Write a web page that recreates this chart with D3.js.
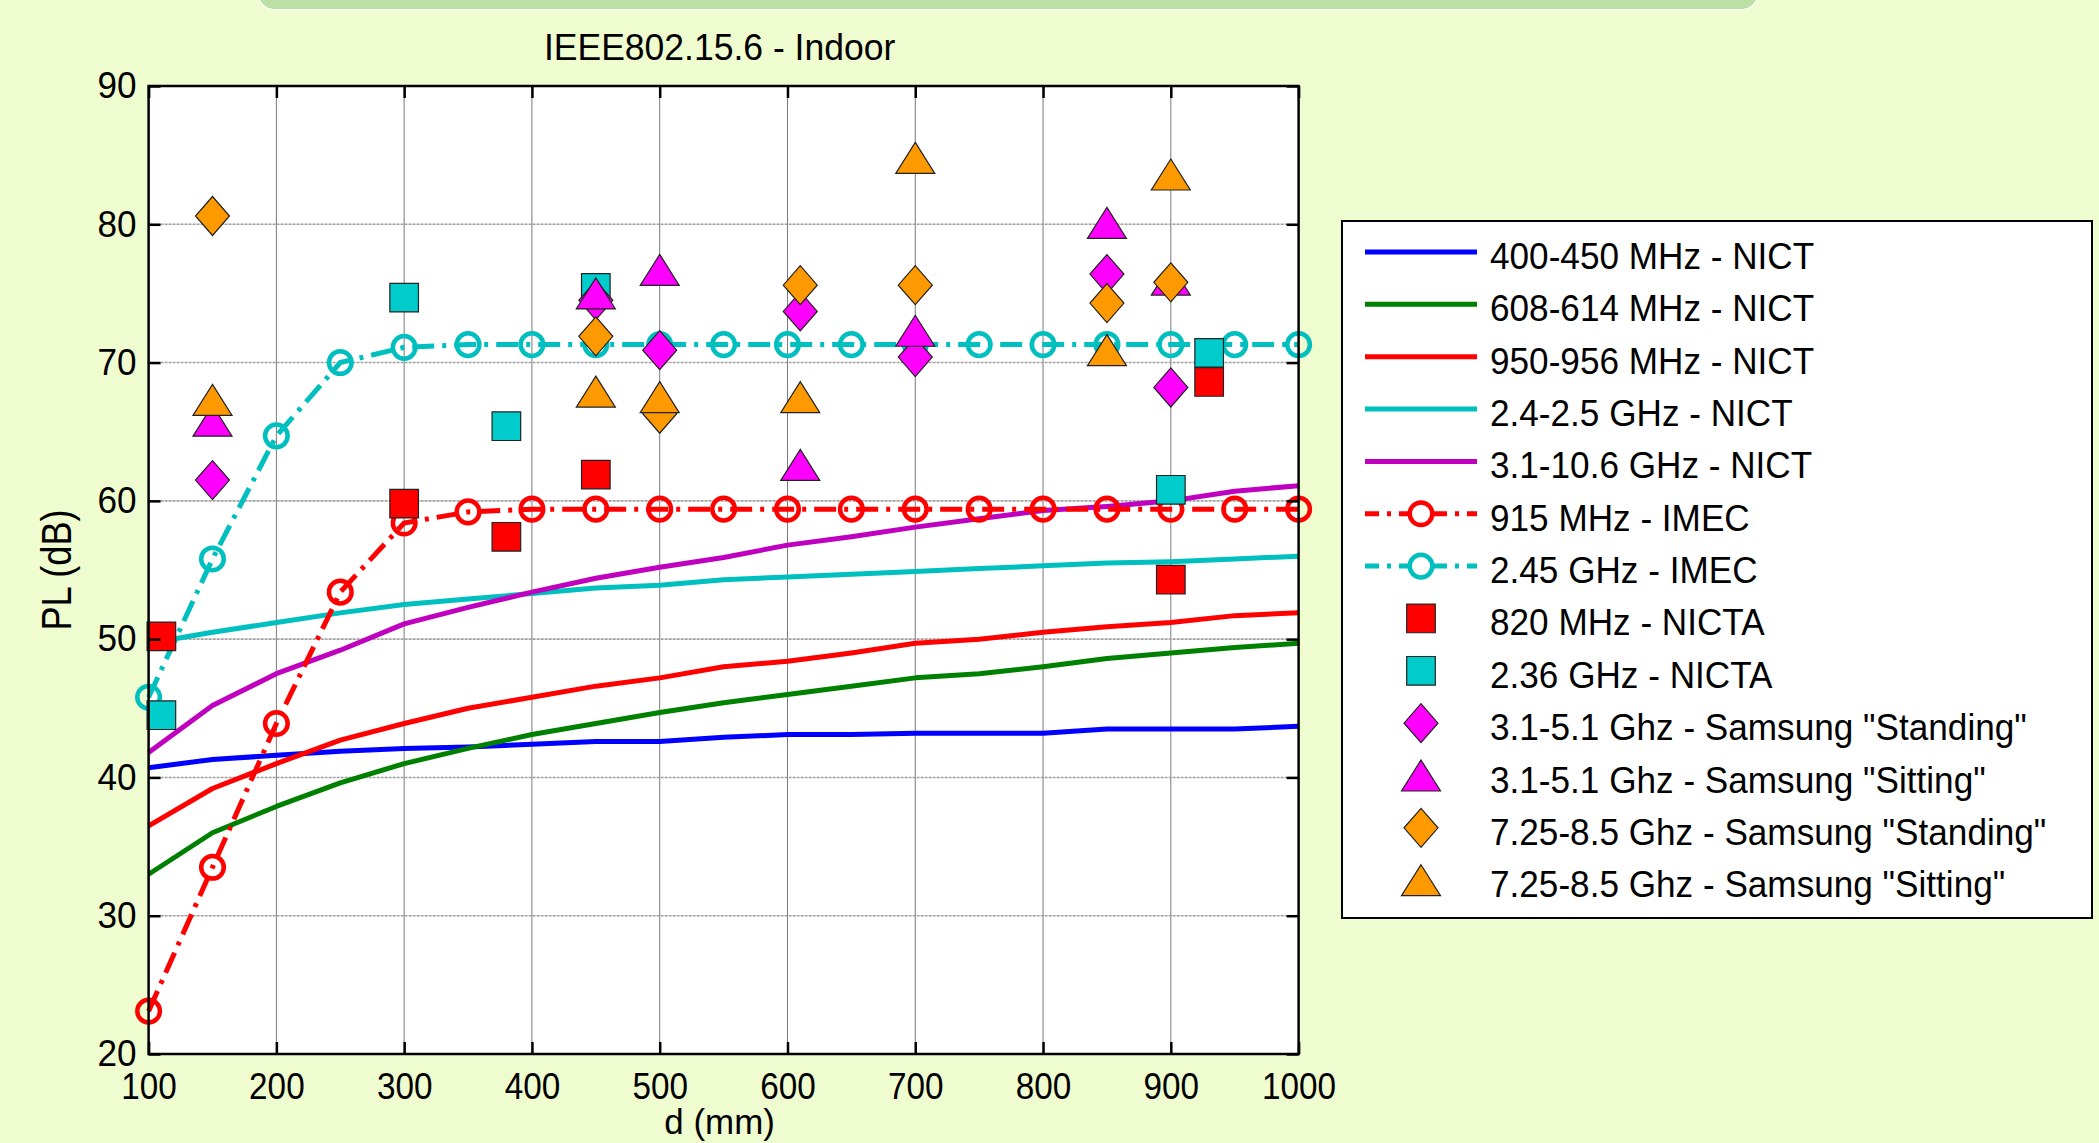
<!DOCTYPE html>
<html>
<head>
<meta charset="utf-8">
<script src="https://cdn.jsdelivr.net/npm/d3@7"></script>
<style>
  body { margin: 0; background: #effccf; }
  svg { display: block; }
  text { font-family: "Liberation Sans", Arial, sans-serif; fill: #000; }
</style>
</head>
<body>
<div id="chart"></div>
<script>
// distances (mm) of the NICT / IMEC curves
const dist = [100, 150, 200, 250, 300, 350, 400, 450, 500, 550, 600, 650, 700, 750, 800, 850, 900, 950, 1000];

// NICT path loss curves (dB)
const nict400 = [40.7, 41.3, 41.6, 41.9, 42.1, 42.2, 42.4, 42.6, 42.6, 42.9, 43.1, 43.1, 43.2, 43.2, 43.2, 43.5, 43.5, 43.5, 43.7];
const nict608 = [33.0, 36.0, 37.9, 39.6, 41.0, 42.1, 43.1, 43.9, 44.7, 45.4, 46.0, 46.6, 47.2, 47.5, 48.0, 48.6, 49.0, 49.4, 49.7];
const nict950 = [36.5, 39.2, 41.0, 42.7, 43.9, 45.0, 45.8, 46.6, 47.2, 48.0, 48.4, 49.0, 49.7, 50.0, 50.5, 50.9, 51.2, 51.7, 51.9];
const nict24 = [49.7, 50.5, 51.2, 51.9, 52.5, 52.9, 53.3, 53.7, 53.9, 54.3, 54.5, 54.7, 54.9, 55.1, 55.3, 55.5, 55.6, 55.8, 56.0];
const nict31 = [41.8, 45.2, 47.5, 49.2, 51.1, 52.3, 53.4, 54.4, 55.2, 55.9, 56.8, 57.4, 58.1, 58.7, 59.3, 59.6, 60.0, 60.7, 61.1];

// IMEC curves (dB)
const imec915 = [23.1, 33.5, 43.9, 53.4, 58.4, 59.2, 59.4, 59.4, 59.4, 59.4, 59.4, 59.4, 59.4, 59.4, 59.4, 59.4, 59.4, 59.4, 59.4];
const imec245 = [45.8, 55.8, 64.7, 70.0, 71.1, 71.3, 71.3, 71.3, 71.3, 71.3, 71.3, 71.3, 71.3, 71.3, 71.3, 71.3, 71.3, 71.3, 71.3];

// NICTA measurements
const nictaDist = [110, 300, 380, 450, 900, 930];
const nicta820 = [50.2, 59.8, 57.4, 61.9, 54.3, 68.6];
const nicta236 = [44.5, 74.7, 65.4, 75.4, 60.8, 70.7];

// Samsung measurements
const samDist = [150, 450, 500, 610, 700, 850, 900];
const sam31Stand = [61.5, 74.5, 70.9, 73.7, 70.4, 76.4, 68.2];
const sam31Sit = [65.8, 75.0, 76.7, 62.6, 72.3, 80.1, 76.0];
const sam725Stand = [80.6, 71.9, 66.3, 75.6, 75.6, 74.3, 75.8];
const sam725Sit = [67.3, 67.9, 67.5, 67.5, 84.8, 70.9, 83.6];

const xTicks = [100, 200, 300, 400, 500, 600, 700, 800, 900, 1000];
const yTicks = [20, 30, 40, 50, 60, 70, 80, 90];

const lineSeries = [
  { name: "400-450 MHz - NICT", values: nict400, color: "#0000ff" },
  { name: "608-614 MHz - NICT", values: nict608, color: "#008000" },
  { name: "950-956 MHz - NICT", values: nict950, color: "#ff0000" },
  { name: "2.4-2.5 GHz - NICT", values: nict24, color: "#00bfbf" },
  { name: "3.1-10.6 GHz - NICT", values: nict31, color: "#bf00bf" }
];
const imecSeries = [
  { name: "915 MHz - IMEC", values: imec915, color: "#ff0000" },
  { name: "2.45 GHz - IMEC", values: imec245, color: "#00bfbf" }
];
const pointSeries = [
  { name: "820 MHz - NICTA", xs: nictaDist, values: nicta820, color: "#ff0000", shape: "square" },
  { name: "2.36 GHz - NICTA", xs: nictaDist, values: nicta236, color: "#00cccc", shape: "square" },
  { name: "3.1-5.1 Ghz - Samsung \"Standing\"", xs: samDist, values: sam31Stand, color: "#ff00ff", shape: "diamond" },
  { name: "3.1-5.1 Ghz - Samsung \"Sitting\"", xs: samDist, values: sam31Sit, color: "#ff00ff", shape: "triangle" },
  { name: "7.25-8.5 Ghz - Samsung \"Standing\"", xs: samDist, values: sam725Stand, color: "#ff9900", shape: "diamond" },
  { name: "7.25-8.5 Ghz - Samsung \"Sitting\"", xs: samDist, values: sam725Sit, color: "#ff9900", shape: "triangle" }
];

const width = 2099;
const height = 1143;
const plot = { left: 148.6, right: 1298.6, top: 86, bottom: 1054 };

const shapes = {
  square: "M-14.3,-14.3H14.3V14.3H-14.3Z",
  diamond: "M0,-19.5L17,0L0,19.5L-17,0Z",
  triangle: "M0,-15.5L19.5,15.5L-19.5,15.5Z"
};
const imecDash = "22,8,4,8";

const svg = d3.select("#chart")
  .append("svg")
  .attr("width", width)
  .attr("height", height)
  .attr("viewBox", [0, 0, width, height]);

const x = d3.scaleLinear().domain([100, 1000]).range([plot.left, plot.right]);
const y = d3.scaleLinear().domain([20, 90]).range([plot.bottom, plot.top]);

// text with a slight horizontal squeeze like the original
function addText(g, str, tx, ty, size, sx, anchor, rot) {
  return g.append("text")
    .attr("transform", `translate(${tx},${ty})` + (rot ? ` rotate(${rot})` : "") + ` scale(${sx},1)`)
    .attr("font-size", size)
    .attr("text-anchor", anchor)
    .text(str);
}

// green banner at the top
svg.append("rect")
  .attr("x", 258).attr("y", -30)
  .attr("width", 1500).attr("height", 40)
  .attr("rx", 16)
  .attr("fill", "#bcdfa5")
  .attr("stroke", "#f7fdec")
  .attr("stroke-width", 2);

// plot area
svg.append("rect")
  .attr("x", plot.left).attr("y", plot.top)
  .attr("width", plot.right - plot.left).attr("height", plot.bottom - plot.top)
  .attr("fill", "#fff");

// grid
svg.append("g")
  .selectAll("line")
  .data(xTicks.slice(1, -1))
  .join("line")
  .attr("x1", d => x(d)).attr("x2", d => x(d))
  .attr("y1", plot.top).attr("y2", plot.bottom)
  .attr("stroke", "#7a7a7a")
  .attr("stroke-width", 1);

svg.append("g")
  .selectAll("line")
  .data(yTicks.slice(1, -1))
  .join("line")
  .attr("x1", plot.left).attr("x2", plot.right)
  .attr("y1", d => y(d)).attr("y2", d => y(d))
  .attr("stroke", "#a0a0a0")
  .attr("stroke-width", 1.6)
  .attr("stroke-dasharray", "3,1");

const line = d3.line()
  .x((d, i) => x(dist[i]))
  .y(d => y(d));

// NICT curves
svg.append("g")
  .selectAll("path")
  .data(lineSeries)
  .join("path")
  .attr("fill", "none")
  .attr("stroke", d => d.color)
  .attr("stroke-width", 5)
  .attr("stroke-linejoin", "round")
  .attr("d", d => line(d.values));

// IMEC curves with circle markers
imecSeries.forEach(s => {
  const g = svg.append("g");
  g.append("path")
    .attr("fill", "none")
    .attr("stroke", s.color)
    .attr("stroke-width", 5)
    .attr("stroke-dasharray", imecDash)
    .attr("d", line(s.values));
  g.selectAll("circle")
    .data(s.values)
    .join("circle")
    .attr("cx", (d, i) => x(dist[i]))
    .attr("cy", d => y(d))
    .attr("r", 11.3)
    .attr("fill", "none")
    .attr("stroke", s.color)
    .attr("stroke-width", 4.5);
});

// measurement markers
pointSeries.forEach(s => {
  svg.append("g")
    .selectAll("path")
    .data(s.values)
    .join("path")
    .attr("transform", (d, i) => `translate(${x(s.xs[i])},${y(d)})`)
    .attr("d", shapes[s.shape])
    .attr("fill", s.color)
    .attr("stroke", "#222")
    .attr("stroke-width", 1.2);
});

// axes (MATLAB style inward ticks)
function styleAxis(g) {
  g.attr("font-size", null).attr("font-family", null);
  g.select(".domain").remove();
  g.selectAll(".tick line").attr("stroke", "#000").attr("stroke-width", 2.5);
}

svg.append("g")
  .attr("transform", `translate(0,${plot.bottom})`)
  .call(d3.axisBottom(x).tickValues(xTicks).tickFormat(d3.format("d"))
    .tickSizeInner(-12).tickSizeOuter(0).tickPadding(19))
  .call(styleAxis)
  .call(g => g.selectAll(".tick text").attr("font-size", 37).attr("transform", "scale(0.9,1)"));

svg.append("g")
  .attr("transform", `translate(${plot.left},0)`)
  .call(d3.axisLeft(y).tickValues(yTicks).tickFormat(d3.format("d"))
    .tickSizeInner(-12).tickSizeOuter(0).tickPadding(12))
  .call(styleAxis)
  .call(g => g.selectAll(".tick text").attr("font-size", 37).attr("x", -12.6).attr("transform", "scale(0.95,1)"));

svg.append("g")
  .attr("transform", `translate(0,${plot.top})`)
  .call(d3.axisTop(x).tickValues(xTicks).tickSizeInner(-12).tickSizeOuter(0).tickFormat(""))
  .call(styleAxis);

svg.append("g")
  .attr("transform", `translate(${plot.right},0)`)
  .call(d3.axisRight(y).tickValues(yTicks).tickSizeInner(-12).tickSizeOuter(0).tickFormat(""))
  .call(styleAxis);

svg.append("rect")
  .attr("x", plot.left).attr("y", plot.top)
  .attr("width", plot.right - plot.left).attr("height", plot.bottom - plot.top)
  .attr("fill", "none")
  .attr("stroke", "#000")
  .attr("stroke-width", 2.5);

// titles
addText(svg, "IEEE802.15.6 - Indoor", (plot.left + plot.right) / 2 - 4, 60, 37, 0.96, "middle");
addText(svg, "d (mm)", (plot.left + plot.right) / 2 - 4, 1134, 36, 0.97, "middle");
addText(svg, "PL (dB)", 71, (plot.top + plot.bottom) / 2, 42, 0.86, "middle", -90);

// legend
const legend = svg.append("g");
legend.append("rect")
  .attr("x", 1342).attr("y", 221)
  .attr("width", 750).attr("height", 697)
  .attr("fill", "#fff")
  .attr("stroke", "#000")
  .attr("stroke-width", 2);

const legendItems = [
  ...lineSeries.map(s => ({ name: s.name, color: s.color, kind: "line" })),
  ...imecSeries.map(s => ({ name: s.name, color: s.color, kind: "imec" })),
  ...pointSeries.map(s => ({ name: s.name, color: s.color, kind: "point", shape: s.shape }))
];

legendItems.forEach((d, i) => {
  const ry = 252 + i * 52.35;
  const g = legend.append("g");
  if (d.kind !== "point") {
    g.append("line")
      .attr("x1", 1365).attr("x2", 1477)
      .attr("y1", ry).attr("y2", ry)
      .attr("stroke", d.color)
      .attr("stroke-width", 5)
      .attr("stroke-dasharray", d.kind === "imec" ? "14,8,4,8" : null);
  }
  if (d.kind === "imec") {
    g.append("circle")
      .attr("cx", 1421).attr("cy", ry).attr("r", 11.3)
      .attr("fill", "#fff")
      .attr("stroke", d.color)
      .attr("stroke-width", 4.5);
  }
  if (d.kind === "point") {
    g.append("path")
      .attr("transform", `translate(1421,${ry})`)
      .attr("d", shapes[d.shape])
      .attr("fill", d.color)
      .attr("stroke", "#222")
      .attr("stroke-width", 1.2);
  }
  addText(g, d.name, 1490, ry + 17, 37, 0.95, "start");
});
</script>
</body>
</html>
